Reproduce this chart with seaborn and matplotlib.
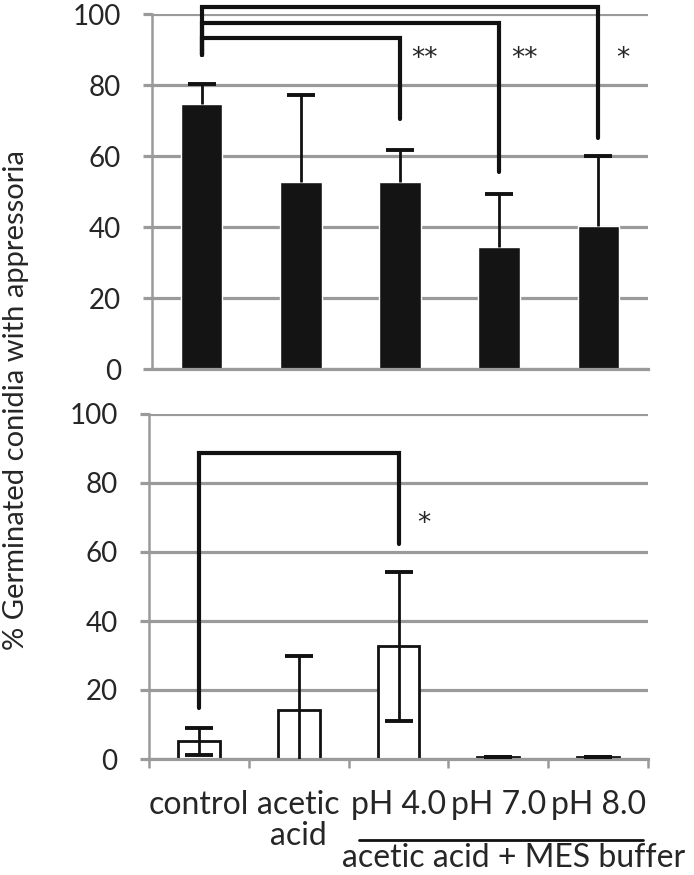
import matplotlib
matplotlib.use("Agg")
import matplotlib.pyplot as plt
import seaborn as sns
from matplotlib.lines import Line2D

# Data
categories = ['control', 'acetic\nacid', 'pH 4.0', 'pH 7.0', 'pH 8.0']
top_mean = [74.6, 52.8, 52.8, 34.5, 40.3]
top_err = [5.8, 24.5, 9.0, 14.9, 19.8]
bottom_mean = [5.1, 14.1, 32.7, 0.5, 0.5]
bottom_err = [4.0, 15.8, 21.6, 0.0, 0.0]
y_ticks = [0, 20, 40, 60, 80, 100]

# significance brackets: (left bar, right bar, height, left foot, right foot, label)
top_brackets = [(0, 2, 93.3, 88.4, 70.5, '**'),
                (0, 3, 97.6, 88.4, 55.4, '**'),
                (0, 4, 102.1, 88.4, 65.0, '*')]
bottom_brackets = [(0, 2, 88.8, 14.8, 62.2, '*')]

sns.set_style('white')
plt.rcParams['font.family'] = ['Lato', 'DejaVu Sans']

W, H = 694, 875
fig = plt.figure(figsize=(W / 100, H / 100), dpi=100)

grid_col = '#9a9a9a'


def px_axes(left, right, top, bottom):
    return fig.add_axes([left / W, 1 - bottom / H, (right - left) / W, (bottom - top) / H])


ax_top = px_axes(152, 648, 14.3, 369)
ax_bot = px_axes(149, 648, 414, 759)

sns.barplot(x=categories, y=top_mean, color='#141414', width=0.42,
            saturation=1, errorbar=None, ax=ax_top)
sns.barplot(x=categories, y=bottom_mean, color='white', edgecolor='#111111',
            linewidth=2, width=0.42, saturation=1, errorbar=None, ax=ax_bot)

pos = list(range(len(categories)))
eb = ax_top.errorbar(pos, top_mean, yerr=[[0] * len(top_err), top_err], fmt='none',
                     ecolor='#111111', elinewidth=2, capsize=10, capthick=2.8, zorder=3)
eb[1][0].set_visible(False)  # only the upper cap in the top panel
ax_bot.errorbar(pos, bottom_mean, yerr=bottom_err, fmt='none',
                ecolor='#111111', elinewidth=2, capsize=10, capthick=2.8, zorder=3)

for ax in (ax_top, ax_bot):
    ax.set_xlim(-0.5, 4.5)
    ax.set_ylim(0, 100)
    ax.set_yticks(y_ticks)
    ax.set_axisbelow(True)
    ax.yaxis.grid(True, color=grid_col, lw=2.3)
    ax.tick_params(axis='y', length=6.5, width=2.3, color=grid_col, pad=16,
                   labelsize=20, left=True)
    for s in ['top', 'right']:
        ax.spines[s].set_visible(False)
    ax.spines['left'].set_color(grid_col)
    ax.spines['left'].set_linewidth(1.8)
    ax.spines['bottom'].set_color(grid_col)
    ax.spines['bottom'].set_linewidth(2.3)
    ax.set_xlabel('')
    ax.set_ylabel('')

ax_top.tick_params(axis='x', length=0, labelbottom=False)
ax_bot.tick_params(axis='x', which='major', length=0, pad=22, labelsize=23)
ax_bot.set_xticks([p - 0.5 for p in pos] + [4.5], minor=True)
ax_bot.tick_params(axis='x', which='minor', length=6.5, width=1.8, color=grid_col, bottom=True)
for lab in ax_bot.get_xticklabels():
    lab.set_linespacing(1.05)


def draw_brackets(ax, brackets, star_y):
    for left, right, h, foot_l, foot_r, label in brackets:
        ax.plot([left, left, right, right], [foot_l, h, h, foot_r], color='#111111',
                lw=3, clip_on=False, solid_joinstyle='miter', zorder=4)
        ax.text(right + 0.25, star_y, label, ha='center', va='center', fontsize=19,
                family='DejaVu Sans')


draw_brackets(ax_top, top_brackets, 87.5)
draw_brackets(ax_bot, bottom_brackets, 68)

fig.text(16 / W, 1 - 400 / H, '% Germinated conidia with appressoria', rotation=90,
         ha='center', va='center', fontsize=21)

fig.add_artist(Line2D([359 / W, 643 / W], [1 - 840 / H] * 2, transform=fig.transFigure,
                      color='#111111', lw=2))
fig.text(514 / W, 1 - 858 / H, 'acetic acid + MES buffer', ha='center', va='center', fontsize=23)

fig.savefig('out.png', dpi=100)
